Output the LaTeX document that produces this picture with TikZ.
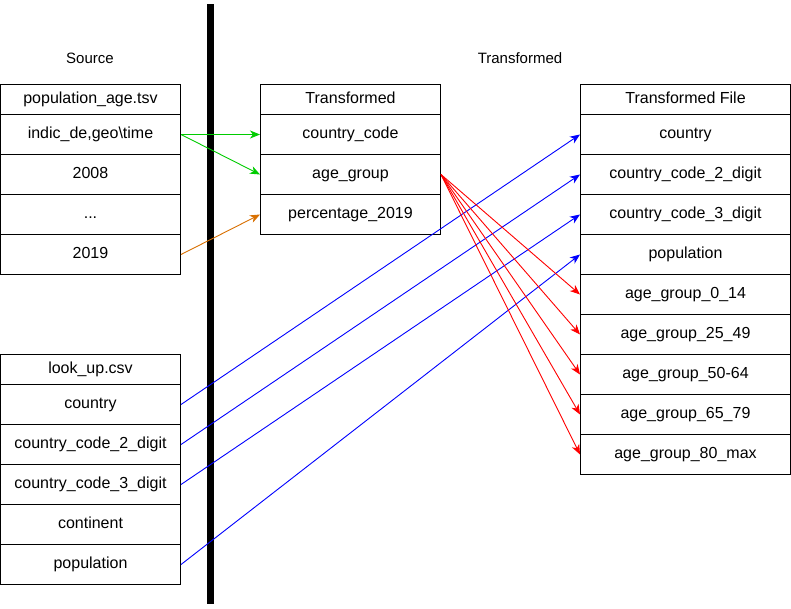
\documentclass[tikz,border=0pt]{standalone}
\usepackage{fontspec}
\setmainfont{Liberation Sans}
\usetikzlibrary{arrows.meta}
\begin{document}
\begin{tikzpicture}[x=1pt,y=-1pt,
  cell/.style={draw=black,line width=1pt,minimum width=#1,minimum height=40pt,inner sep=0pt,anchor=north west,font=\fontsize{16}{19}\selectfont,text height=11.5pt,text depth=3.5pt},
  hcell/.style={cell=#1,minimum height=30pt},
  lbl/.style={font=\fontsize{15}{17}\selectfont,inner sep=0pt},
  con/.style={line width=0.9pt,-{Stealth[length=10pt,width=8pt,inset=3pt]}},
  greencon/.style={con,draw={rgb,255:red,0;green,204;blue,0}},
  orangecon/.style={con,draw={rgb,255:red,217;green,112;blue,0}},
  bluecon/.style={con,draw={rgb,255:red,0;green,0;blue,255}},
  redcon/.style={con,draw={rgb,255:red,255;green,0;blue,0}}
]
\useasboundingbox (0,0) rectangle (791,608);
\fill[white] (0,0) rectangle (791,608);

\node[lbl] (srclbl) at (90,58) {Source};
\node[lbl] (trlbl) at (520,58) {Transformed};

% Source table
\node[hcell=180pt] (s0) at (0,84) {population\_age.tsv};
\node[cell=180pt] (s1) at (0,114) {indic\_de,geo\textbackslash time};
\node[cell=180pt] (s2) at (0,154) {2008};
\node[cell=180pt] (s3) at (0,194) {...};
\node[cell=180pt] (s4) at (0,234) {2019};

% Lookup table
\node[hcell=180pt] (l0) at (0,354) {look\_up.csv};
\node[cell=180pt] (l1) at (0,384) {country};
\node[cell=180pt] (l2) at (0,424) {country\_code\_2\_digit};
\node[cell=180pt] (l3) at (0,464) {country\_code\_3\_digit};
\node[cell=180pt] (l4) at (0,504) {continent};
\node[cell=180pt] (l5) at (0,544) {population};

% Middle table
\node[hcell=180pt] (m0) at (260,84) {Transformed};
\node[cell=180pt] (m1) at (260,114) {country\_code};
\node[cell=180pt] (m2) at (260,154) {age\_group};
\node[cell=180pt] (m3) at (260,194) {percentage\_2019};

% Right table
\node[hcell=210pt] (r0) at (580,84) {Transformed File};
\node[cell=210pt] (r1) at (580,114) {country};
\node[cell=210pt] (r2) at (580,154) {country\_code\_2\_digit};
\node[cell=210pt] (r3) at (580,194) {country\_code\_3\_digit};
\node[cell=210pt] (r4) at (580,234) {population};
\node[cell=210pt] (r5) at (580,274) {age\_group\_0\_14};
\node[cell=210pt] (r6) at (580,314) {age\_group\_25\_49};
\node[cell=210pt] (r7) at (580,354) {age\_group\_50-64};
\node[cell=210pt] (r8) at (580,394) {age\_group\_65\_79};
\node[cell=210pt] (r9) at (580,434) {age\_group\_80\_max};

% Thick separator
\coordinate (sepTop) at (210,4);
\coordinate (sepBot) at (210,604);
\draw[line width=7pt] (sepTop) -- (sepBot);

% Connectors
\draw[greencon] (s1.east) -- (m1.west);
\draw[greencon] (s1.east) -- (m2.west);
\draw[orangecon] (s4.east) -- (m3.west);

\draw[bluecon] (l1.east) -- (r1.west);
\draw[bluecon] (l2.east) -- (r2.west);
\draw[bluecon] (l3.east) -- (r3.west);
\draw[bluecon] (l5.east) -- (r4.west);

\draw[redcon] (m2.east) -- (r5.west);
\draw[redcon] (m2.east) -- (r6.west);
\draw[redcon] (m2.east) -- (r7.west);
\draw[redcon] (m2.east) -- (r8.west);
\draw[redcon] (m2.east) -- (r9.west);
\end{tikzpicture}
\end{document}
